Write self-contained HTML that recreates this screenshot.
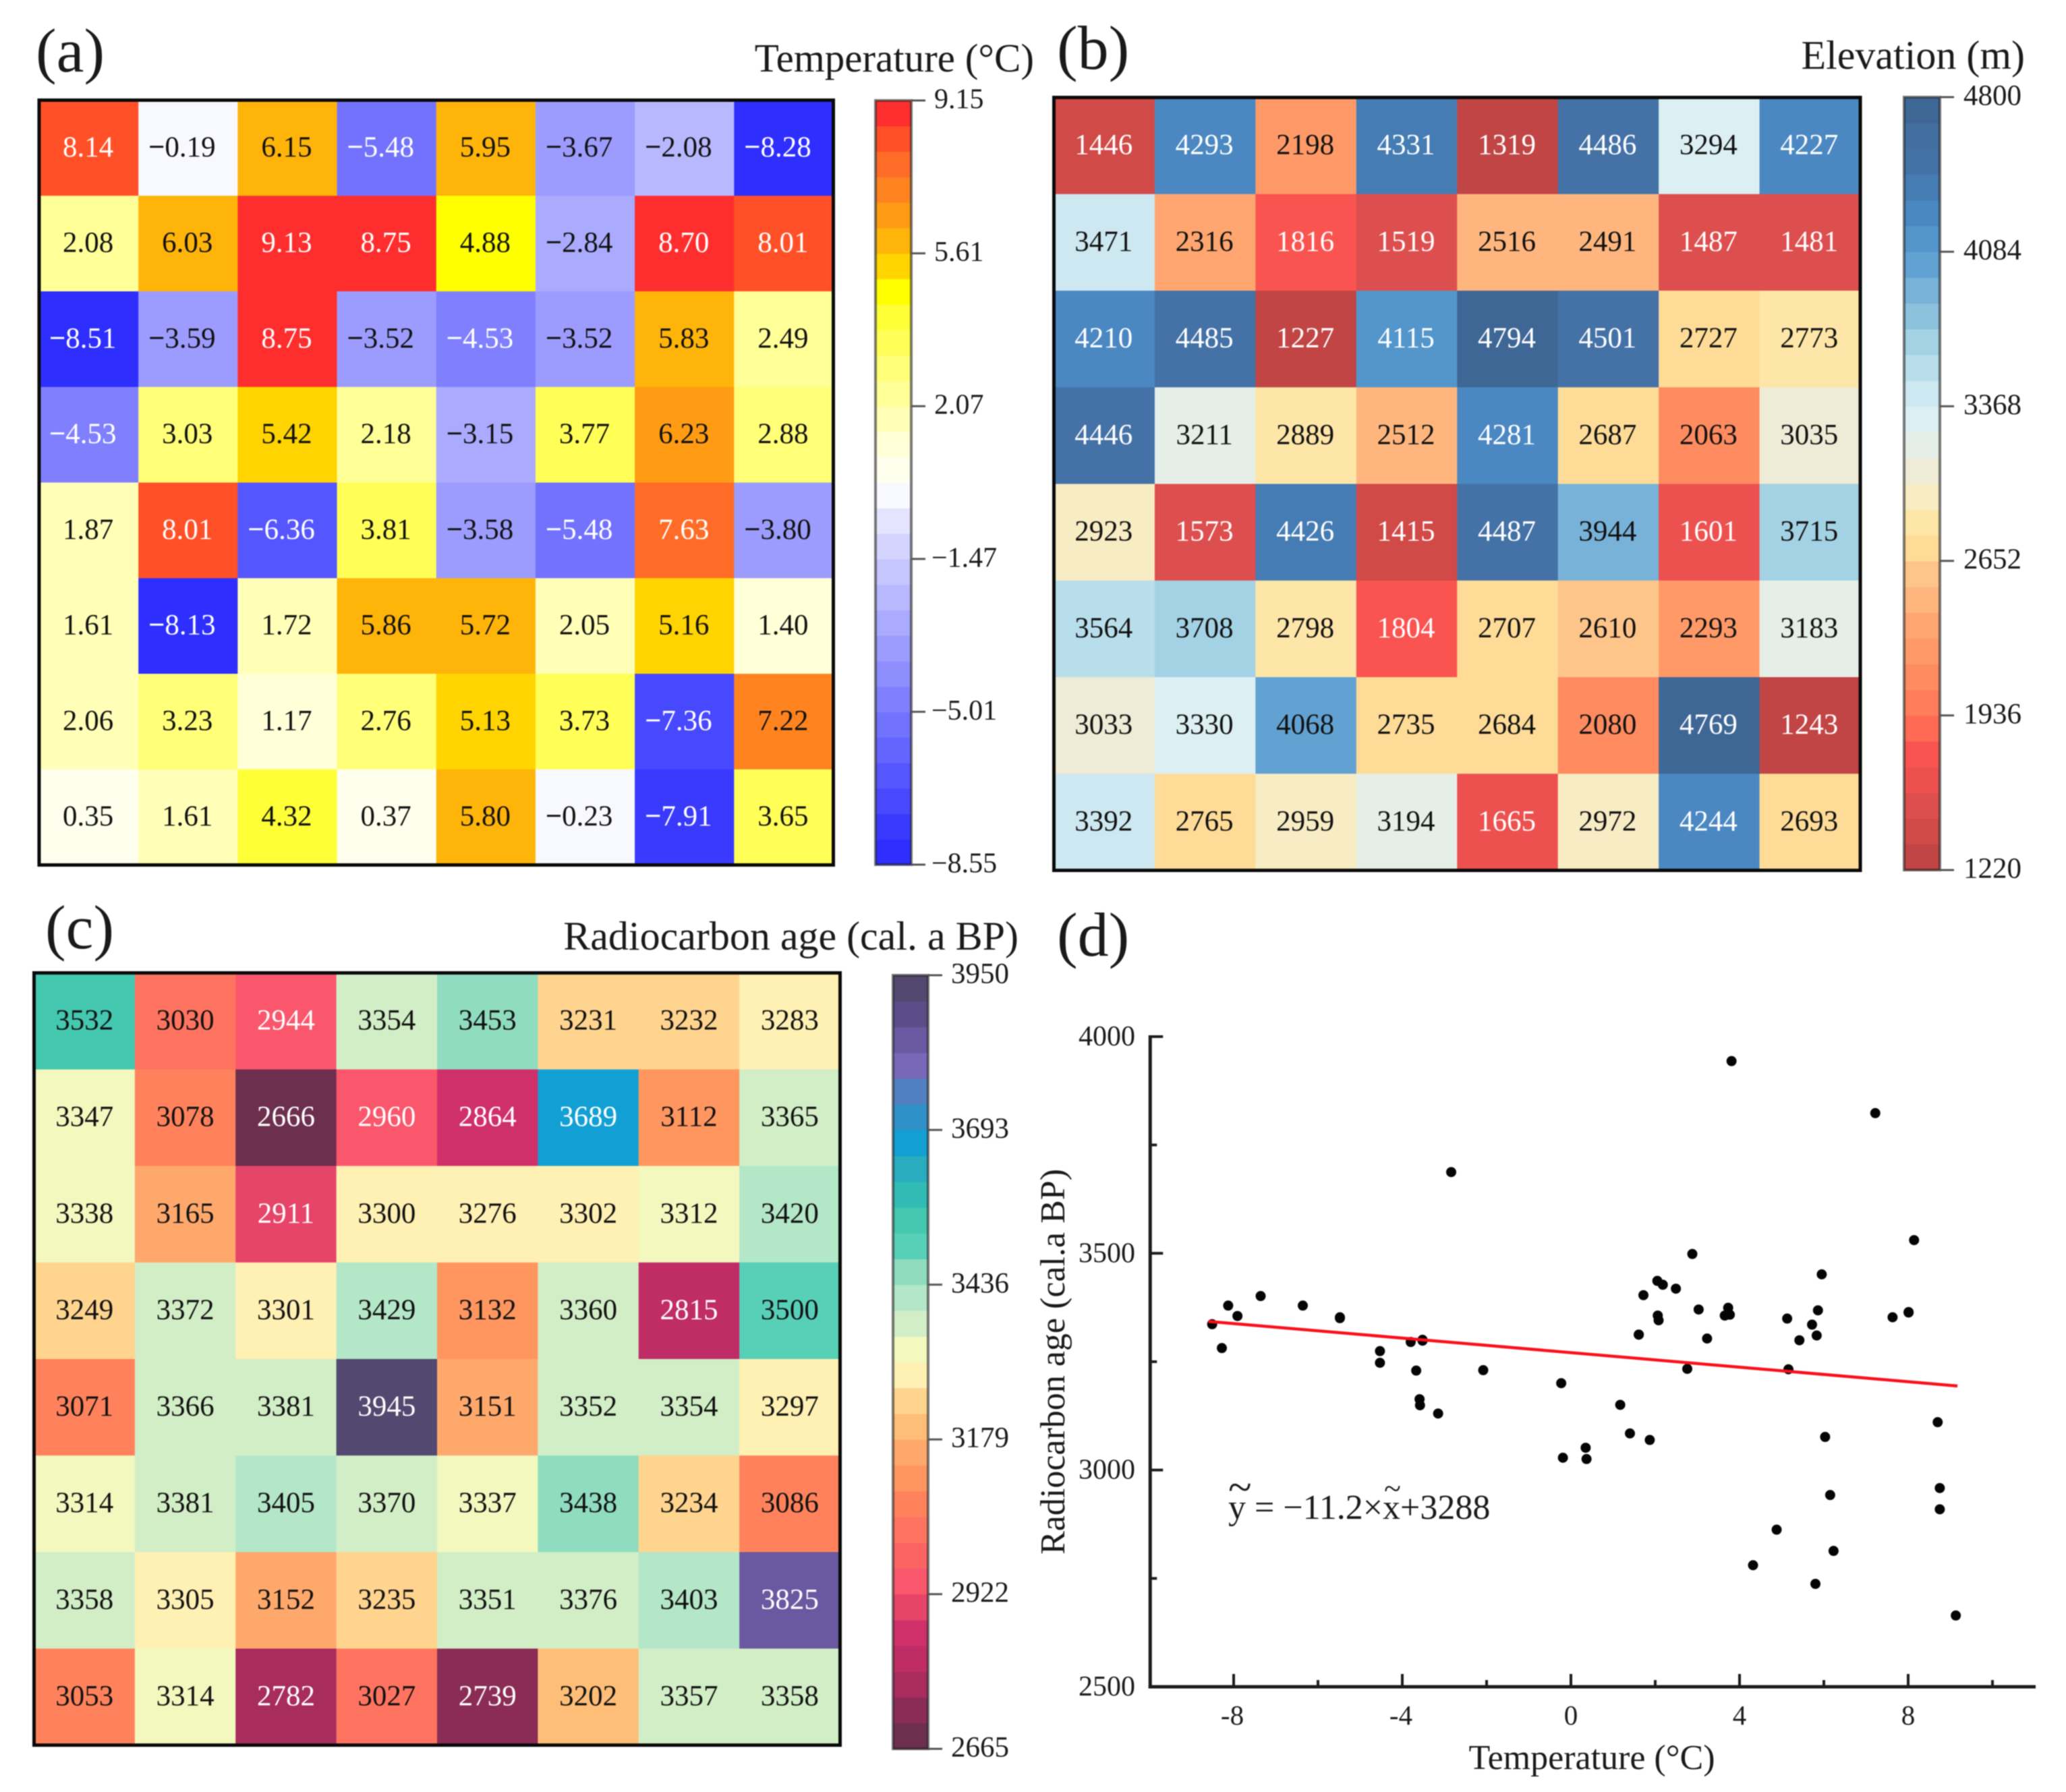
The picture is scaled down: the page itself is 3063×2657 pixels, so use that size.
<!DOCTYPE html>
<html lang="en">
<head>
<meta charset="utf-8">
<title>Temperature, elevation and radiocarbon age heatmaps</title>
<style>
html,body{margin:0;padding:0;background:#fff;}
svg{display:block;filter:blur(0.9px);}
text{font-family:"Liberation Serif",serif;fill:#1a1a1a;}
</style>
</head>
<body>
<svg id="figure" xmlns="http://www.w3.org/2000/svg" width="3063" height="2657" viewBox="0 0 3063 2657">
  <rect width="3063" height="2657" fill="#fff"/>
  <text x="53" y="106" font-size="92">(a)</text>
  <text x="1567" y="102" font-size="92">(b)</text>
  <text x="67" y="1406" font-size="92">(c)</text>
  <text x="1567" y="1417" font-size="92">(d)</text>
  <text x="1533" y="106" font-size="59" text-anchor="end">Temperature (°C)</text>
  <text x="3002" y="102" font-size="60" text-anchor="end">Elevation (m)</text>
  <text x="1510" y="1408" font-size="60" text-anchor="end">Radiocarbon age (cal. a BP)</text>
  <text x="2360" y="2623" font-size="52" text-anchor="middle">Temperature (°C)</text>
  <text transform="translate(1578,2019) rotate(-90)" font-size="52" text-anchor="middle">Radiocarbon age (cal.a BP)</text>
  <text x="1821" y="2252" font-size="52">y = −11.2×x+3288</text>
  <text x="1821" y="2226" font-size="64">~</text>
  <text x="2052" y="2222" font-size="46">~</text>
  <g id="layer"></g>
</svg>
<script>
const temperatureValues = [
  8.14,-0.19,6.15,-5.48,5.95,-3.67,-2.08,-8.28,
  2.08,6.03,9.13,8.75,4.88,-2.84,8.70,8.01,
  -8.51,-3.59,8.75,-3.52,-4.53,-3.52,5.83,2.49,
  -4.53,3.03,5.42,2.18,-3.15,3.77,6.23,2.88,
  1.87,8.01,-6.36,3.81,-3.58,-5.48,7.63,-3.80,
  1.61,-8.13,1.72,5.86,5.72,2.05,5.16,1.40,
  2.06,3.23,1.17,2.76,5.13,3.73,-7.36,7.22,
  0.35,1.61,4.32,0.37,5.80,-0.23,-7.91,3.65
];
const elevationValues = [
  1446,4293,2198,4331,1319,4486,3294,4227,
  3471,2316,1816,1519,2516,2491,1487,1481,
  4210,4485,1227,4115,4794,4501,2727,2773,
  4446,3211,2889,2512,4281,2687,2063,3035,
  2923,1573,4426,1415,4487,3944,1601,3715,
  3564,3708,2798,1804,2707,2610,2293,3183,
  3033,3330,4068,2735,2684,2080,4769,1243,
  3392,2765,2959,3194,1665,2972,4244,2693
];
const radiocarbonValues = [
  3532,3030,2944,3354,3453,3231,3232,3283,
  3347,3078,2666,2960,2864,3689,3112,3365,
  3338,3165,2911,3300,3276,3302,3312,3420,
  3249,3372,3301,3429,3132,3360,2815,3500,
  3071,3366,3381,3945,3151,3352,3354,3297,
  3314,3381,3405,3370,3337,3438,3234,3086,
  3358,3305,3152,3235,3351,3376,3403,3825,
  3053,3314,2782,3027,2739,3202,3357,3358
];
const temperatureTicks = [9.15,5.61,2.07,-1.47,-5.01,-8.55];
const temperatureTickLabels = ["9.15","5.61","2.07","−1.47","−5.01","−8.55"];
const elevationTicks = [4800,4084,3368,2652,1936,1220];
const elevationTickLabels = ["4800","4084","3368","2652","1936","1220"];
const radiocarbonTicks = [3950,3693,3436,3179,2922,2665];
const radiocarbonTickLabels = ["3950","3693","3436","3179","2922","2665"];
const temperaturePalette = ["#2e2eff","#3a3aff","#4848ff","#5656ff","#6464ff","#7272ff","#8080ff","#8e8eff","#9c9cff","#aaaaff","#b8b8ff","#c6c6ff","#d4d4ff","#e4e4ff","#f8f8ff","#ffffee","#ffffd8","#ffffb8","#ffff98","#ffff78","#ffff58","#ffff38","#ffff00","#ffd400","#ffb40a","#ff9c14","#ff8420","#ff6c28","#ff5028","#ff2e2e"];
const elevationPalette = ["#c14545","#d04a48","#dd4f4e","#ec5150","#fa5450","#ff6a55","#ff7d5a","#ff8b60","#ff9a68","#ffa670","#feb67e","#fec58a","#fedc98","#fde6a8","#f7ecc4","#eeebd6","#e6eee8","#dcf0f4","#cde8f1","#b9deeb","#a3d2e4","#8cc2dc","#78b2d8","#62a2d2","#5396cc","#4b88c2","#467cb4","#4472a6","#436ea0","#3f6796"];
const radiocarbonPalette = ["#6c2f4e","#8a2c56","#a82c5e","#c02c66","#d0306a","#e64468","#fa566c","#fc6464","#ff7460","#ff825c","#ff9660","#ffa86c","#ffbe78","#ffd48e","#fff0b4","#f2f8be","#d2eec6","#b4e6c8","#90dcc0","#58d0b8","#44c8b0","#30bcb4","#28acbe","#12a0d4","#3090c8","#5080c0","#7868b8","#6a58a0","#5c4c88","#534870"];
const xMajorTicks = [-8,-4,0,4,8];
const xMinorTicks = [-6,-2,2,6,10];
const yMajorTicks = [2500,3000,3500,4000];
const yMinorTicks = [2750,3250,3750];
const fitLineX = [-8.6,9.17];
const fitLineY = [3343,3194];

const NS = "http://www.w3.org/2000/svg";
const layer = document.getElementById("layer");
const GRID = 8;

function make(tag, attrs, parent) {
  const el = document.createElementNS(NS, tag);
  for (const k in attrs) el.setAttribute(k, attrs[k]);
  (parent || layer).appendChild(el);
  return el;
}
function fmtTemp(v) {
  return Math.abs(v).toFixed(2);
}
function fmtInt(v) { return String(v); }

function drawHeatmap(name, values, palette, vmin, vmax, box, isLight, fmt) {
  const g = make("g", {});
  
  
  const cw = (box.x1 - box.x0) / GRID, ch = (box.y1 - box.y0) / GRID;
  values.forEach(function (v, i) {
    const col = i % GRID, row = Math.floor(i / GRID);
    const lvl = Math.min(palette.length - 1, Math.max(0, Math.floor((v - vmin) / (vmax - vmin) * palette.length)));
    const r = make("rect", {x: box.x0 + col * cw, y: box.y0 + row * ch, width: cw + 0.6, height: ch + 0.6, fill: palette[lvl]}, g);
    
    
    const neg = v < 0;
    const t = make("text", {x: box.x0 + (col + 0.5) * cw + box.dx - (neg ? 8 : 0), y: box.y0 + (row + 0.5) * ch + 12.5, "font-size": 43, "text-anchor": "middle"}, g);
    
    
    t.style.fill = isLight(v) ? "#fff" : "#111";
    if (neg) {
      const m = make("tspan", {"font-weight": "bold"}, t);
      m.style.fill = isLight(v) ? "#fff" : "#111";
      m.textContent = "−";
      const d = make("tspan", {}, t);
      d.style.fill = isLight(v) ? "#fff" : "#111";
      d.textContent = fmt(v);
    } else {
      t.textContent = fmt(v);
    }
  });
  const frame = make("rect", {x: box.x0, y: box.y0, width: box.x1 - box.x0, height: box.y1 - box.y0, fill: "none", stroke: "#0a0a0a", "stroke-width": 5}, g);
  
  
}

function drawColorbar(name, palette, ticks, labels, vmin, vmax, cb) {
  const g = make("g", {});
  
  
  const n = palette.length, h = (cb.y1 - cb.y0) / n;
  palette.forEach(function (c, i) {
    const r = make("rect", {x: cb.x0, y: cb.y1 - (i + 1) * h, width: cb.x1 - cb.x0, height: h + 0.6, fill: c}, g);
    
    
  });
  const frame = make("rect", {x: cb.x0, y: cb.y0, width: cb.x1 - cb.x0, height: cb.y1 - cb.y0, fill: "none", stroke: "#222", "stroke-opacity": 0.6, "stroke-width": 4}, g);
  
  
  ticks.forEach(function (tv, i) {
    const y = cb.y1 - (tv - vmin) / (vmax - vmin) * (cb.y1 - cb.y0);
    const line = make("line", {x1: cb.x1, x2: cb.x1 + 21, y1: y, y2: y, stroke: "#555", "stroke-width": 3}, g);
    
    
    const neg = labels[i].charAt(0) === "−";
    const t = make("text", {x: neg ? cb.x1 + 30 : cb.x1 + cb.gap, y: y + 11.5, "font-size": cb.size}, g);
    
    
    t.textContent = labels[i];
  });
}

drawHeatmap("temperature", temperatureValues, temperaturePalette, -8.55, 9.15,
  {x0: 58, x1: 1235.5, y0: 148.5, y1: 1282.5, dx: -1},
  function (v) { return v >= 7.5 || v <= -4.5; }, fmtTemp);
drawHeatmap("elevation", elevationValues, elevationPalette, 1220, 4800,
  {x0: 1562.5, x1: 2758, y0: 144.5, y1: 1290.5, dx: -1},
  function (v) { return v <= 1819 || v >= 4100; }, fmtInt);
drawHeatmap("radiocarbon", radiocarbonValues, radiocarbonPalette, 2665, 3950,
  {x0: 50.5, x1: 1245.5, y0: 1442.5, y1: 2587.5, dx: 0},
  function (v) { return v <= 2960 || v >= 3689; }, fmtInt);

drawColorbar("temperature", temperaturePalette, temperatureTicks, temperatureTickLabels, -8.55, 9.15,
  {x0: 1298, x1: 1351, y0: 149, y1: 1282, size: 42, gap: 34});
drawColorbar("elevation", elevationPalette, elevationTicks, elevationTickLabels, 1220, 4800,
  {x0: 2823, x1: 2876, y0: 144, y1: 1290, size: 43, gap: 35});
drawColorbar("radiocarbon", radiocarbonPalette, radiocarbonTicks, radiocarbonTickLabels, 2665, 3950,
  {x0: 1324, x1: 1376, y0: 1446, y1: 2593, size: 43, gap: 34});

function sx(v) { return 2329 + 62.5 * v; }
function sy(v) { return 2501 - (v - 2500) * 0.6427; }

const axisX = sx(-9.98);

const scatter = make("g", {});



const yAxis = make("line", {x1: axisX, x2: axisX, y1: sy(4000) - 2, y2: sy(2500) + 2.5, stroke: "#1c1c1c", "stroke-width": 5}, scatter);


const xAxis = make("line", {x1: axisX - 2.5, x2: 3018, y1: sy(2500), y2: sy(2500), stroke: "#1c1c1c", "stroke-width": 5}, scatter);



xMajorTicks.forEach(function (v) {
  const tick = make("line", {x1: sx(v), x2: sx(v), y1: sy(2500), y2: sy(2500) - 19, stroke: "#1c1c1c", "stroke-width": 4}, scatter);
  
  
  const t = make("text", {x: sx(v) - (v < 0 ? 2 : 0), y: 2557, "font-size": 41, "text-anchor": "middle"}, scatter);
  
  
  t.textContent = String(v);
});
xMinorTicks.forEach(function (v) {
  const tick = make("line", {x1: sx(v), x2: sx(v), y1: sy(2500), y2: sy(2500) - 10, stroke: "#1c1c1c", "stroke-width": 4}, scatter);
  
  
});
yMajorTicks.forEach(function (v) {
  const tick = make("line", {x1: axisX, x2: axisX + 19, y1: sy(v), y2: sy(v), stroke: "#1c1c1c", "stroke-width": 4}, scatter);
  
  
  const t = make("text", {x: 1683, y: sy(v) + 13, "font-size": 42, "text-anchor": "end"}, scatter);
  
  
  t.textContent = String(v);
});
yMinorTicks.forEach(function (v) {
  const tick = make("line", {x1: axisX, x2: axisX + 10, y1: sy(v), y2: sy(v), stroke: "#1c1c1c", "stroke-width": 4}, scatter);
  
  
});

temperatureValues.forEach(function (tv, i) {
  const p = make("circle", {cx: sx(tv), cy: sy(radiocarbonValues[i]) + 1, r: 7.5, fill: "#050505"}, scatter);
  
  
});

const fit = make("line", {x1: sx(fitLineX[0]), y1: sy(fitLineY[0]), x2: sx(fitLineX[1]), y2: sy(fitLineY[1]), stroke: "#f8101c", "stroke-width": 4.5}, scatter);


</script>
</body>
</html>
